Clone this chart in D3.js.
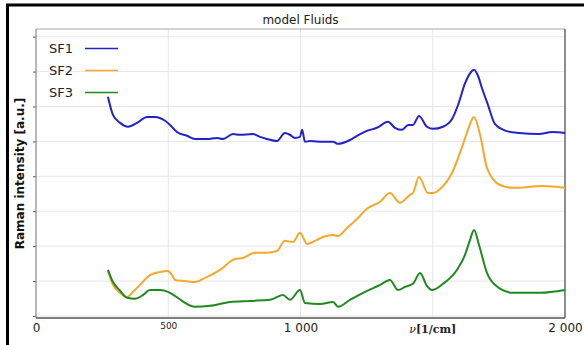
<!DOCTYPE html>
<html>
<head>
<meta charset="utf-8">
<script src="https://cdn.jsdelivr.net/npm/d3@7"></script>
<style>
  body { margin: 0; background: #fff; }
  svg { display: block; font-family: "DejaVu Sans", sans-serif; }
</style>
</head>
<body>
<div id="chartDiv"></div>
<script>
// spectra: [wavenumber 1/cm, intensity a.u.]
var sf1 = [[272,6.28],[291,5.76],[318,5.53],[348,5.42],[382,5.53],[420,5.70],[450,5.70],[488,5.59],[507,5.47],
  [533,5.27],[571,5.16],[601,5.07],[647,5.07],[684,5.10],[707,5.07],[745,5.21],[771,5.19],[820,5.21],[847,5.13],
  [873,5.07],[911,5.01],[941,5.24],[960,5.19],[979,5.10],[998,5.13],[1006,5.33],[1017,4.99],[1036,5.01],[1085,4.99],
  [1123,4.99],[1142,4.93],[1187,5.04],[1214,5.16],[1251,5.30],[1289,5.39],[1331,5.56],[1357,5.39],[1384,5.33],
  [1407,5.47],[1425,5.47],[1448,5.73],[1478,5.42],[1501,5.36],[1539,5.42],[1573,5.64],[1596,6.05],[1622,6.66],
  [1641,6.95],[1656,7.05],[1671,6.88],[1686,6.53],[1709,6.04],[1735,5.50],[1777,5.30],[1826,5.24],[1902,5.21],
  [1951,5.27],[2000,5.24]];
var sf2 = [[272,1.29],[291,0.89],[318,0.66],[344,0.54],[367,0.69],[393,0.89],[431,1.17],[469,1.26],[499,1.29],
  [514,1.17],[526,1.03],[563,1.00],[601,0.97],[639,1.09],[696,1.32],[752,1.63],[783,1.66],[828,1.81],[847,1.81],
  [873,1.81],[911,1.86],[941,2.15],[972,2.12],[998,2.38],[1025,2.06],[1062,2.18],[1085,2.26],[1123,2.32],
  [1142,2.29],[1176,2.52],[1214,2.78],[1251,3.07],[1301,3.27],[1338,3.52],[1376,3.24],[1414,3.47],[1425,3.52],
  [1448,3.98],[1482,3.52],[1501,3.52],[1528,3.64],[1573,4.10],[1611,4.84],[1633,5.33],[1656,5.70],[1679,5.19],
  [1705,4.24],[1754,3.75],[1804,3.67],[1917,3.72],[2000,3.67]];
var sf3 = [[272,1.32],[291,0.97],[318,0.72],[344,0.52],[374,0.49],[405,0.60],[431,0.74],[469,0.74],[499,0.69],
  [526,0.57],[552,0.43],[601,0.26],[658,0.29],[734,0.40],[809,0.43],[885,0.46],[934,0.60],[960,0.46],[998,0.74],
  [1017,0.37],[1074,0.34],[1123,0.40],[1142,0.26],[1187,0.46],[1244,0.69],[1301,0.89],[1338,1.03],[1369,0.74],
  [1395,0.83],[1425,0.92],[1452,1.23],[1478,0.86],[1497,0.74],[1539,0.92],[1592,1.32],[1622,1.75],[1641,2.18],
  [1656,2.46],[1675,2.03],[1705,1.23],[1735,0.89],[1804,0.66],[1906,0.66],[2000,0.74]];

var seriesNames = ["SF1", "SF2", "SF3"];
var xTicks = [0, 500, 1000, 1500, 2000];
var yTicks = [0, 1, 2, 3, 4, 5, 6, 7, 8];

var width = 584, height = 345;
var pLeft = 36, pRight = 565, pTop = 29, pBottom = 318;
var colors = ["#2222c8", "#f5a82a", "#1f8a1f"];

var svg = d3.select("#chartDiv").append("svg")
    .attr("width", width)
    .attr("height", height);

// outer frame of the figure
svg.append("rect")
    .attr("x", 7.5).attr("y", 5)
    .attr("width", 600).attr("height", 360)
    .attr("fill", "none")
    .attr("stroke", "#000")
    .attr("stroke-width", 3);

var x = d3.scaleLinear().domain([0, 2000]).range([pLeft, pRight]);
var y = d3.scaleLinear().domain([-0.06, 8.22]).range([pBottom, pTop]);

// grid
svg.append("g").selectAll("line")
    .data(yTicks)
    .enter().append("line")
    .attr("x1", pLeft).attr("x2", pRight)
    .attr("y1", function (d) { return y(d); })
    .attr("y2", function (d) { return y(d); })
    .attr("stroke", "#e6e6e6");
svg.append("g").selectAll("line")
    .data([500, 1000, 1500])
    .enter().append("line")
    .attr("y1", pTop).attr("y2", pBottom)
    .attr("x1", function (d) { return x(d); })
    .attr("x2", function (d) { return x(d); })
    .attr("stroke", "#e6e6e6");

// y axis: ticks only
var yAxis = svg.append("g")
    .attr("transform", "translate(" + pLeft + ",0)")
    .call(d3.axisLeft(y).tickValues(yTicks).tickSize(3).tickFormat(""));
yAxis.select(".domain").remove();
yAxis.selectAll("line").attr("stroke", "#555");

// x axis
var fmt = function (d) {
    if (d === 1500) return "";
    return d >= 1000 ? d3.format(",")(d).replace(",", " ") : d;
};
var xAxis = svg.append("g")
    .attr("transform", "translate(0," + pBottom + ")")
    .call(d3.axisBottom(x).tickValues(xTicks).tickSize(0).tickPadding(5).tickFormat(fmt));
xAxis.select(".domain").remove();
xAxis.selectAll("text")
    .attr("font-family", "DejaVu Sans, sans-serif")
    .attr("font-size", function (d) { return d === 500 ? 9 : 12; })
    .attr("fill", "#222");

// spines
svg.append("line").attr("x1", pLeft).attr("x2", pRight).attr("y1", pTop).attr("y2", pTop)
    .attr("stroke", "#aaa").attr("stroke-width", 1.2);
svg.append("line").attr("x1", pLeft).attr("x2", pLeft).attr("y1", pTop).attr("y2", pBottom)
    .attr("stroke", "#888").attr("stroke-width", 1.2);
svg.append("line").attr("x1", pRight).attr("x2", pRight).attr("y1", pTop).attr("y2", pBottom)
    .attr("stroke", "#444").attr("stroke-width", 1.2);
svg.append("line").attr("x1", pLeft).attr("x2", pRight).attr("y1", pBottom).attr("y2", pBottom)
    .attr("stroke", "#555").attr("stroke-width", 1.4);

// spectra
var line = d3.line()
    .x(function (d) { return x(d[0]); })
    .y(function (d) { return y(d[1]); })
    .curve(d3.curveMonotoneX);

svg.append("g").selectAll("path")
    .data([sf1, sf2, sf3])
    .enter().append("path")
    .attr("d", line)
    .attr("fill", "none")
    .attr("stroke", function (d, i) { return colors[i]; })
    .attr("stroke-width", 2)
    .attr("stroke-linejoin", "round");

// title and labels
svg.append("text")
    .attr("x", (pLeft + pRight) / 2).attr("y", 24)
    .attr("text-anchor", "middle")
    .attr("font-size", 12)
    .attr("fill", "#222")
    .text("model Fluids");

svg.append("text")
    .attr("transform", "translate(24," + ((pTop + pBottom) / 2) + ") rotate(-90)")
    .attr("text-anchor", "middle")
    .attr("font-size", 12)
    .attr("font-weight", "bold")
    .attr("fill", "#111")
    .text("Raman intensity [a.u.]");

svg.append("text")
    .attr("x", x(1500)).attr("y", 333)
    .attr("text-anchor", "middle")
    .attr("font-family", "DejaVu Serif, serif")
    .attr("font-size", 11)
    .attr("font-weight", "bold")
    .attr("fill", "#222")
    .html("<tspan font-style='italic' font-weight='normal'>ν</tspan>[1/cm]");

// legend
var legend = svg.append("g").selectAll("g")
    .data(seriesNames)
    .enter().append("g")
    .attr("transform", function (d, i) { return "translate(0," + (48.5 + i * 22) + ")"; });
legend.append("text")
    .attr("x", 49).attr("y", 4.5)
    .attr("font-size", 13)
    .attr("fill", "#222")
    .text(function (d) { return d; });
legend.append("line")
    .attr("x1", 85).attr("x2", 118)
    .attr("stroke", function (d, i) { return colors[i]; })
    .attr("stroke-width", 1.6);
</script>
</body>
</html>
